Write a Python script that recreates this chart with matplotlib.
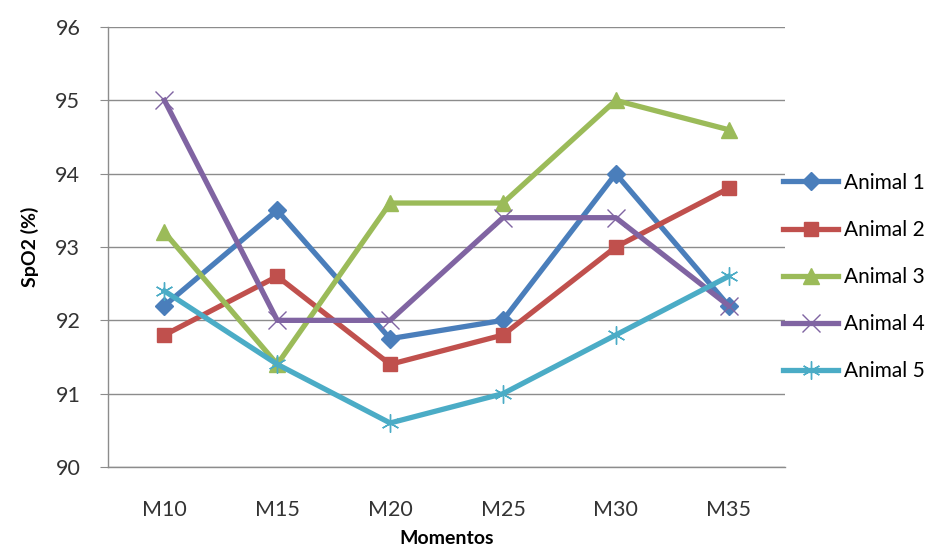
import matplotlib.pyplot as plt

momentos = ["M10", "M15", "M20", "M25", "M30", "M35"]

animal_1 = [92.2, 93.5, 91.75, 92.0, 94.0, 92.2]
animal_2 = [91.8, 92.6, 91.4, 91.8, 93.0, 93.8]
animal_3 = [93.2, 91.4, 93.6, 93.6, 95.0, 94.6]
animal_4 = [95.0, 92.0, 92.0, 93.4, 93.4, 92.2]
animal_5 = [92.4, 91.4, 90.6, 91.0, 91.8, 92.6]

series = [
    ("Animal 1", animal_1, "#4A7EBB", "D", 9),
    ("Animal 2", animal_2, "#C0504D", "s", 10),
    ("Animal 3", animal_3, "#9BBB59", "^", 11),
    ("Animal 4", animal_4, "#8064A2", "x", 13),
    ("Animal 5", animal_5, "#4BACC6", "*", 13),
]

plt.rcParams["font.family"] = ["Lato", "DejaVu Sans"]

fig = plt.figure(figsize=(9.37, 5.52), dpi=100)
ax = fig.add_axes([0.1153, 0.154, 0.7225, 0.797])

x = range(len(momentos))
for name, vals, color, marker, ms in series:
    if marker in ("x", "*"):
        # open markers in the Excel style: thin strokes, no fill
        ax.plot(x, vals, color=color, lw=3.8, label=name, zorder=3,
                marker="x" if marker == "x" else (6, 2, 0), ms=ms,
                mew=1.0, mec=color)
    else:
        ax.plot(x, vals, color=color, lw=3.8, marker=marker, ms=ms,
                mec=color, label=name, zorder=3)

ax.set_xlim(-0.5, len(momentos) - 0.5)
ax.set_ylim(90, 96)
ax.set_yticks(range(90, 97))
ax.set_xticks(list(x))
ax.set_xticklabels(momentos)
ax.yaxis.grid(True, color="#8C8C8C", lw=1.0)
ax.set_axisbelow(True)

for side in ("top", "right"):
    ax.spines[side].set_visible(False)
for side in ("left", "bottom"):
    ax.spines[side].set_color("#8C8C8C")
    ax.spines[side].set_linewidth(1.0)

ax.tick_params(axis="y", length=6, color="#8C8C8C", labelsize=15.5,
               labelcolor="#333333", pad=14)
ax.tick_params(axis="x", length=0, labelsize=15.5, labelcolor="#333333", pad=24)

ax.set_ylabel("SpO2 (%)", fontsize=14, fontweight="bold", labelpad=12)
ax.set_xlabel("Momentos", fontsize=14, fontweight="bold", labelpad=7)

ax.legend(loc="center left", bbox_to_anchor=(0.985, 0.432), frameon=False,
          fontsize=15, handlelength=2.65, handletextpad=0.25,
          labelspacing=1.3, borderaxespad=0)

fig.savefig("out.png", dpi=100)
